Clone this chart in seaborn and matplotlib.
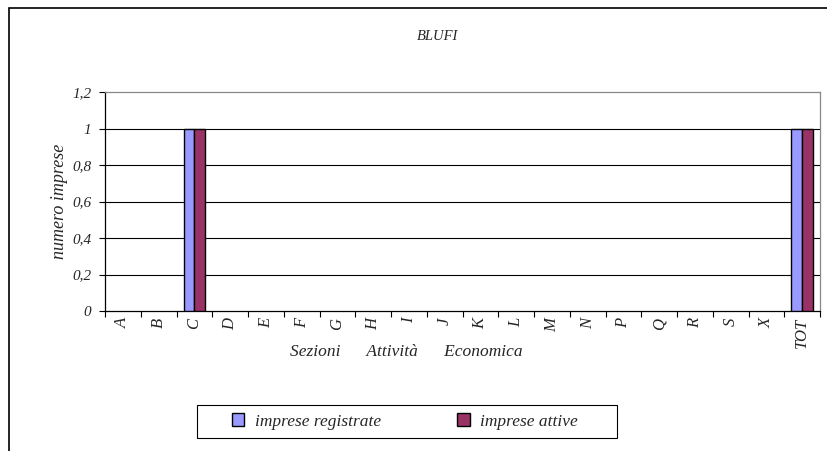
import matplotlib
matplotlib.use("Agg")
import matplotlib.pyplot as plt
import matplotlib.patches as mpatches
import seaborn as sns
import pandas as pd

categories = ["A", "B", "C", "D", "E", "F", "G", "H", "I", "J", "K", "L", "M",
              "N", "P", "Q", "R", "S", "X", "TOT"]
registrate = [0, 0, 1, 0, 0, 0, 0, 0, 0, 0, 0, 0, 0, 0, 0, 0, 0, 0, 0, 1]
attive = [0, 0, 1, 0, 0, 0, 0, 0, 0, 0, 0, 0, 0, 0, 0, 0, 0, 0, 0, 1]
series_names = ["imprese registrate", "imprese attive"]
yticks = [0, 0.2, 0.4, 0.6, 0.8, 1.0, 1.2]
ytick_labels = ["0", "0,2", "0,4", "0,6", "0,8", "1", "1,2"]

df = pd.DataFrame({
    "cat": categories * 2,
    "val": registrate + attive,
    "serie": [series_names[0]] * len(categories) + [series_names[1]] * len(categories),
})

sns.set_theme(style="white")
plt.rcParams["font.family"] = ["Liberation Serif", "DejaVu Serif"]
plt.rcParams["font.style"] = "italic"

fig = plt.figure(figsize=(8.27, 4.51), dpi=100)
ax = fig.add_axes([105 / 827, 1 - 311 / 451, 715 / 827, 219 / 451])

palette = {series_names[0]: "#9999FF", series_names[1]: "#993366"}
sns.barplot(data=df, x="cat", y="val", hue="serie", order=categories,
            hue_order=series_names, palette=palette, width=0.6, gap=0,
            edgecolor="black", linewidth=1.0, saturation=1, ax=ax, legend=False,
            zorder=3)
for p in ax.patches:
    if p.get_height() == 0:
        p.set_visible(False)

ax.set_ylim(0, 1.2)
ax.set_xlim(-0.5, len(categories) - 0.5)
ax.set_yticks(yticks)
ax.set_yticklabels(ytick_labels, fontsize=11, style="italic")
for y in yticks[1:-1]:
    ax.axhline(y, color="black", linewidth=0.8, zorder=1)

ax.set_xticks(range(len(categories)))
ax.set_xticklabels(categories, rotation=90, fontsize=12, style="italic")
ax.tick_params(axis="x", which="major", length=0, pad=5)
ax.set_xticks([i - 0.5 for i in range(len(categories) + 1)], minor=True)
ax.tick_params(axis="x", which="minor", length=4, width=0.8, color="black",
               direction="out", bottom=True)
ax.tick_params(axis="y", length=4, width=0.8, color="black", direction="out",
               left=True, pad=6)

for side in ["left", "bottom"]:
    ax.spines[side].set_color("black")
    ax.spines[side].set_linewidth(0.9)
for side in ["top", "right"]:
    ax.spines[side].set_visible(True)
    ax.spines[side].set_color("#888888")
    ax.spines[side].set_linewidth(0.9)

ax.set_xlabel("")
ax.set_ylabel("numero imprese", fontsize=13, style="italic")
ax.yaxis.set_label_coords(-37 / 715, 0.5)

fig.text(406 / 827, 1 - 352 / 451, "Sezioni      Attività      Economica",
         ha="center", va="center", fontsize=12.5, style="italic")
fig.text(438 / 827, 1 - 37 / 451, "BLUFI", ha="center", va="center",
         fontsize=10.5, style="italic")

handles = [mpatches.Patch(facecolor=palette[s], edgecolor="black", linewidth=1.0)
           for s in series_names]
leg = fig.legend(handles, series_names, loc="center",
                 bbox_to_anchor=(405 / 827, 1 - 421.5 / 451), ncol=2,
                 frameon=False, prop={"style": "italic", "size": 12.5},
                 handlelength=0.7, handleheight=0.7, columnspacing=4.4,
                 handletextpad=0.6, borderpad=0.45, borderaxespad=0)

legend_frame = mpatches.Rectangle((197 / 827, 1 - 438 / 451), 420 / 827, 33 / 451,
                                  transform=fig.transFigure, fill=False,
                                  edgecolor="black", linewidth=0.8)
fig.add_artist(legend_frame)

border = mpatches.Rectangle((9 / 827, -0.1), 1.2, 1 - 8 / 451 + 0.1,
                            transform=fig.transFigure, fill=False,
                            edgecolor="black", linewidth=1.2, clip_on=False)
fig.add_artist(border)

fig.savefig("out.png", dpi=100)
